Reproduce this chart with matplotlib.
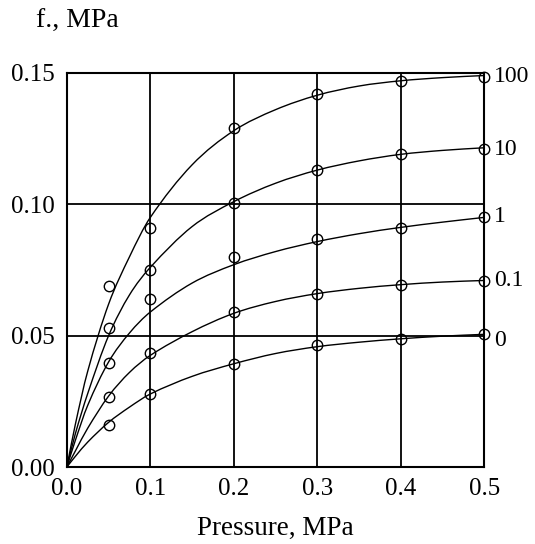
"""Shear strength f vs pressure, curves for several parameter values."""
import matplotlib
matplotlib.use("Agg")
import matplotlib.pyplot as plt
from matplotlib.path import Path
from matplotlib.patches import PathPatch

plt.rcParams["font.family"] = ["Liberation Serif", "DejaVu Serif"]

# measured points (circles)
p_meas = [0.05, 0.1, 0.2, 0.3, 0.4, 0.5]
f_meas = {
    "100": [0.069, 0.091, 0.129, 0.142, 0.147, 0.1485],
    "10": [0.053, 0.075, 0.1005, 0.113, 0.119, 0.121],
    "1": [0.0396, 0.064, 0.080, 0.0868, 0.091, 0.0952],
    "0.1": [0.0266, 0.0434, 0.059, 0.0659, 0.0693, 0.0708],
    "0": [0.016, 0.0278, 0.0392, 0.0464, 0.0487, 0.0506],
}

# fitted curves
p_curve = [0, 0.01, 0.025, 0.05, 0.075, 0.1, 0.15, 0.2, 0.25, 0.3, 0.35, 0.4, 0.45, 0.5]
f_curve = {
    "100": [0, 0.0160, 0.0365, 0.0620, 0.0800, 0.0950, 0.1150, 0.1280, 0.1360,
            0.1415, 0.1450, 0.1470, 0.1482, 0.1490],
    "10": [0, 0.0125, 0.0280, 0.0500, 0.0655, 0.0760, 0.0915, 0.1010, 0.1080,
           0.1130, 0.1165, 0.1190, 0.1205, 0.1215],
    "1": [0, 0.0100, 0.0235, 0.0400, 0.0510, 0.0590, 0.0700, 0.0770, 0.0820,
          0.0858, 0.0888, 0.0912, 0.0932, 0.0950],
    "0.1": [0, 0.0060, 0.0148, 0.0270, 0.0360, 0.0425, 0.0515, 0.0585, 0.0630,
            0.0660, 0.0680, 0.0694, 0.0704, 0.0710],
    "0": [0, 0.0040, 0.0095, 0.0170, 0.0228, 0.0278, 0.0345, 0.0393, 0.0432,
          0.0458, 0.0475, 0.0488, 0.0498, 0.0505],
}
label_y = {"100": 0.1485, "10": 0.121, "1": 0.0955, "0.1": 0.071, "0": 0.048}

x_ticks = [0.0, 0.1, 0.2, 0.3, 0.4, 0.5]
y_ticks = [0.00, 0.05, 0.10, 0.15]


def smooth_path(xs, ys):
    # cubic Hermite through the read points, drawn as bezier segments
    n = len(xs)
    slopes = []
    for i in range(n):
        a, b = max(i - 1, 0), min(i + 1, n - 1)
        slopes.append((ys[b] - ys[a]) / (xs[b] - xs[a]))
    verts = [(xs[0], ys[0])]
    codes = [Path.MOVETO]
    for i in range(n - 1):
        h = xs[i + 1] - xs[i]
        verts += [(xs[i] + h / 3, ys[i] + slopes[i] * h / 3),
                  (xs[i + 1] - h / 3, ys[i + 1] - slopes[i + 1] * h / 3),
                  (xs[i + 1], ys[i + 1])]
        codes += [Path.CURVE4] * 3
    return Path(verts, codes)


fig = plt.figure(figsize=(5.35, 5.44), dpi=100)
ax = fig.add_axes([0.125, 0.1415, 0.78, 0.7245])

for key in f_meas:
    ax.add_patch(PathPatch(smooth_path(p_curve, f_curve[key]), fc="none",
                           ec="black", lw=1.0, zorder=3, clip_on=False))
    ax.plot(p_meas, f_meas[key], ls="none", marker="o", ms=7.5, mfc="none",
            mec="black", mew=1.0, zorder=4, clip_on=False)
    ax.text(0.512, label_y[key], key, fontsize=17, va="center", ha="left",
            clip_on=False)

ax.set_xlim(0, 0.5)
ax.set_ylim(0, 0.15)
ax.set_xticks(x_ticks)
ax.set_yticks(y_ticks)
ax.set_xticklabels([f"{v:.1f}" for v in x_ticks])
ax.set_yticklabels([f"{v:.2f}" for v in y_ticks])
ax.tick_params(length=0, labelsize=18)
ax.tick_params(axis="x", pad=8)
ax.tick_params(axis="y", pad=9)
ax.grid(True, color="black", lw=1.3)
for s in ax.spines.values():
    s.set_linewidth(1.5)

ax.set_xlabel("Pressure, MPa", fontsize=19.5, labelpad=11)
fig.text(0.068, 0.96, "f., MPa", fontsize=20, va="center", ha="left")

fig.savefig("out.png", dpi=100)
